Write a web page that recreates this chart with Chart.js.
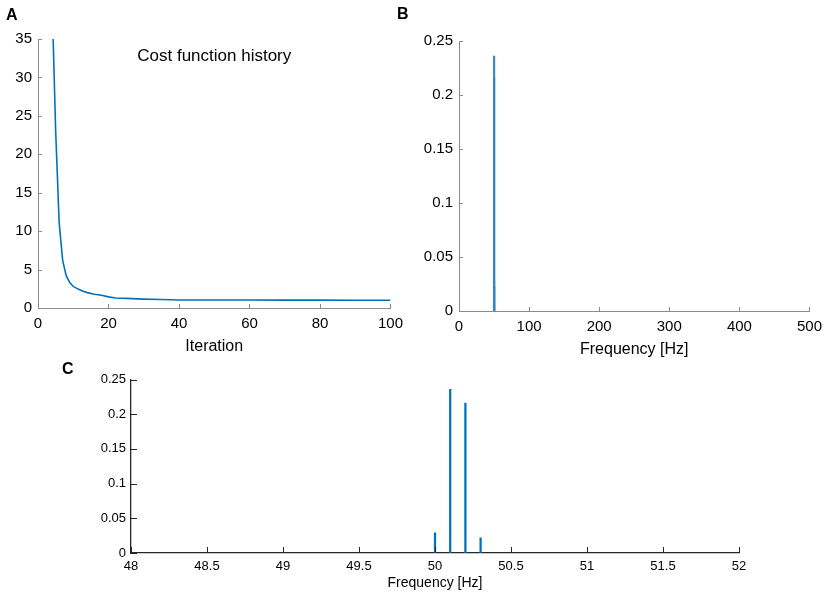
<!DOCTYPE html>
<html>
<head>
<meta charset="utf-8">
<script src="https://cdn.jsdelivr.net/npm/chart.js@4.4.1/dist/chart.umd.min.js"></script>
<style>
  body { margin: 0; background: #fff; }
  #wrap { position: relative; width: 829px; height: 594px; background: #fff; font-family: "Liberation Sans", Arial, sans-serif; }
  .box { position: absolute; }
  .lbl { position: absolute; font-weight: bold; font-size: 16px; line-height: 16px; color: #000; }
</style>
</head>
<body>
<div id="wrap">
  <div class="box" style="left:0;top:0;width:410px;height:360px"><canvas id="costChart"></canvas></div>
  <div class="box" style="left:410px;top:0;width:419px;height:360px"><canvas id="specChart"></canvas></div>
  <div class="box" style="left:0;top:360px;width:829px;height:234px"><canvas id="zoomChart"></canvas></div>
  <div class="lbl" style="left:6px;top:7px">A</div>
  <div class="lbl" style="left:397px;top:6px">B</div>
  <div class="lbl" style="left:62px;top:361px">C</div>
</div>
<script>
// A: cost function per iteration
const iterations = [4, 5, 6, 7, 8, 9, 10, 11, 12, 13, 14, 16, 18, 20, 22, 25, 30, 35, 40, 50, 60, 70, 80, 90, 100];
const cost       = [40, 23.2, 11.1, 6.2, 4.2, 3.3, 2.8, 2.55, 2.35, 2.15, 2.0, 1.8, 1.65, 1.45, 1.3, 1.25, 1.15, 1.1, 1.05, 1.05, 1.04, 1.03, 1.02, 1.01, 1.0];

// B / C: spectrum peaks around 50 Hz
const peakFreq = [50.0, 50.1, 50.2, 50.3];
const peakAmp  = [0.029, 0.236, 0.216, 0.022];

const costTicksX = [0, 20, 40, 60, 80, 100];
const specTicksX = [0, 100, 200, 300, 400, 500];
const zoomTicksX = [48, 48.5, 49, 49.5, 50, 50.5, 51, 51.5, 52];

const FONT = '"Liberation Sans", Arial, sans-serif';
const BLUE = '#0072BD';
const GREY = '#8c8c8c';
const DARK = '#262626';

function plainNum(v) {
    return String(Number(Number(v).toFixed(3)));
}

// MATLAB style ticks pointing into the axes
const inwardTicks = {
    id: 'inwardTicks',
    afterDraw(chart, args, opts) {
        const {ctx, chartArea: a, scales: {x, y}} = chart;
        ctx.save();
        ctx.strokeStyle = opts.color;
        ctx.lineWidth = 1;
        ctx.beginPath();
        x.ticks.forEach(t => {
            const px = Math.round(x.getPixelForValue(t.value)) + 0.5;
            ctx.moveTo(px, a.bottom);
            ctx.lineTo(px, a.bottom - opts.length);
        });
        y.ticks.forEach(t => {
            const py = Math.round(y.getPixelForValue(t.value)) + 0.5;
            ctx.moveTo(a.left, py);
            ctx.lineTo(a.left + opts.length, py);
        });
        ctx.stroke();
        ctx.restore();
    }
};

// text placed in data coordinates
const note = {
    id: 'note',
    afterDraw(chart, args, opts) {
        if (!opts.text) return;
        const {ctx, scales: {x, y}} = chart;
        ctx.save();
        ctx.font = opts.size + 'px ' + FONT;
        ctx.fillStyle = '#000';
        ctx.textAlign = 'center';
        ctx.textBaseline = 'middle';
        ctx.fillText(opts.text, x.getPixelForValue(opts.x), y.getPixelForValue(opts.y));
        ctx.restore();
    }
};

function axis(o) {
    return {
        type: 'linear',
        min: o.min,
        max: o.max,
        offset: false,
        grid: {display: false, drawTicks: false, offset: false},
        border: {display: true, color: o.color, width: o.width || 1},
        ticks: {
            stepSize: o.step,
            padding: o.pad,
            color: '#000',
            font: {family: FONT, size: o.font},
            callback: v => plainNum(v)
        },
        afterBuildTicks: o.list ? (s => { s.ticks = o.list.map(v => ({value: v})); }) : undefined,
        title: o.title ? {
            display: true, text: o.title, color: '#000',
            font: {family: FONT, size: o.titleSize}, padding: {top: 0, bottom: o.titlePad}
        } : {display: false},
        afterFit: o.fit
    };
}

const costConfig = {
    type: 'line',
    data: {
        datasets: [{
            label: 'Cost',
            data: iterations.map((it, i) => ({x: it, y: cost[i]})),
            borderColor: BLUE,
            borderWidth: 1.6,
            pointRadius: 0,
            fill: false,
            tension: 0
        }]
    },
    options: {
        responsive: true,
        maintainAspectRatio: false,
        animation: false,
        layout: {padding: {left: 0, right: 19, top: 39, bottom: 0}},
        plugins: {
            legend: {display: false},
            tooltip: {enabled: false},
            inwardTicks: {color: GREY, length: 4},
            note: {text: 'Cost function history', x: 50, y: 32.7, size: 17}
        },
        scales: {
            x: axis({min: 0, max: 100, step: 20, list: costTicksX, pad: 7, font: 15, color: GREY,
                     title: 'Iteration', titleSize: 16, titlePad: 4, fit: s => { s.height = 52; }}),
            y: axis({min: 0, max: 35, step: 5, pad: 6, font: 15, color: GREY,
                     fit: s => { s.width = 38; }})
        }
    },
    plugins: [inwardTicks, note]
};

const specConfig = {
    type: 'bar',
    data: {
        datasets: [{
            label: 'Spectrum',
            data: peakFreq.map((f, i) => ({x: f, y: peakAmp[i]})),
            backgroundColor: '#2f86cc',
            barThickness: 1.4,
            borderWidth: 0
        }]
    },
    options: {
        responsive: true,
        maintainAspectRatio: false,
        animation: false,
        layout: {padding: {left: 0, right: 15, top: 41, bottom: 0}},
        plugins: {
            legend: {display: false},
            tooltip: {enabled: false},
            inwardTicks: {color: GREY, length: 4}
        },
        scales: {
            x: axis({min: 0, max: 500, step: 100, list: specTicksX, pad: 7, font: 15, color: GREY,
                     title: 'Frequency [Hz]', titleSize: 16, titlePad: 1, fit: s => { s.height = 49; }}),
            y: axis({min: 0, max: 0.25, step: 0.05, pad: 6, font: 15, color: GREY,
                     fit: s => { s.width = 49; }})
        }
    },
    plugins: [inwardTicks]
};

const zoomConfig = {
    type: 'bar',
    data: {
        datasets: [{
            label: 'Spectrum',
            data: peakFreq.map((f, i) => ({x: f, y: peakAmp[i]})),
            backgroundColor: BLUE,
            barThickness: 1.6,
            borderWidth: 0
        }]
    },
    options: {
        responsive: true,
        maintainAspectRatio: false,
        animation: false,
        layout: {padding: {left: 90, right: 90, top: 19.5, bottom: 0}},
        plugins: {
            legend: {display: false},
            tooltip: {enabled: false},
            inwardTicks: {color: DARK, length: 6}
        },
        scales: {
            x: axis({min: 48, max: 52, step: 0.5, list: zoomTicksX, pad: 6, font: 13, color: DARK, width: 1.3,
                     title: 'Frequency [Hz]', titleSize: 14, titlePad: 2, fit: s => { s.height = 41; }}),
            y: axis({min: 0, max: 0.25, step: 0.05, pad: 5, font: 13, color: DARK, width: 1.3,
                     fit: s => { s.width = 41; }})
        }
    },
    plugins: [inwardTicks]
};

const costChart = new Chart(document.getElementById('costChart'), costConfig);
const specChart = new Chart(document.getElementById('specChart'), specConfig);
const zoomChart = new Chart(document.getElementById('zoomChart'), zoomConfig);
</script>
</body>
</html>
